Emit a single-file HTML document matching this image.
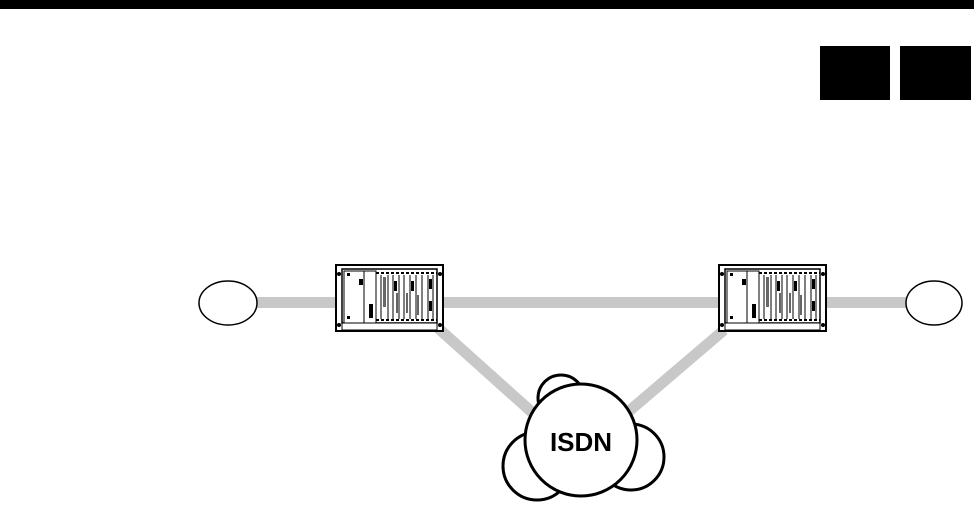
<!DOCTYPE html>
<html><head><style>html,body{margin:0;padding:0;background:#fff;width:974px;height:507px;overflow:hidden}</style></head>
<body>
<svg width="974" height="507" xmlns="http://www.w3.org/2000/svg">
<defs>
<g id="rack">
  <rect x="0" y="0" width="107" height="66" fill="#fff" stroke="#000" stroke-width="2"/>
  <rect x="6" y="4" width="95" height="54" fill="#fff" stroke="#000" stroke-width="1.5"/>
  <rect x="6" y="58" width="95" height="7" fill="#fff" stroke="#000" stroke-width="1"/>
  <rect x="8" y="6" width="20" height="52" fill="#fff" stroke="#000" stroke-width="1"/>
  <rect x="28" y="6" width="12" height="52" fill="#fff" stroke="#000" stroke-width="1"/>
  <rect x="11" y="8" width="3" height="3"/><rect x="11" y="51" width="3" height="3"/>
  <rect x="23" y="14" width="4" height="6"/><rect x="33" y="39" width="4" height="14"/>
  <g stroke="#000" stroke-width="1">
    <line x1="40" y1="8" x2="101" y2="8" stroke-dasharray="3,2" stroke-width="2"/>
    <line x1="40" y1="55" x2="101" y2="55" stroke-dasharray="3,2" stroke-width="2"/>
    <line x1="45" y1="10" x2="45" y2="54"/><line x1="52" y1="10" x2="52" y2="54"/>
    <line x1="57" y1="10" x2="57" y2="54"/><line x1="63" y1="10" x2="63" y2="54"/>
    <line x1="68" y1="10" x2="68" y2="54"/><line x1="74" y1="10" x2="74" y2="54"/>
    <line x1="80" y1="10" x2="80" y2="54"/><line x1="86" y1="10" x2="86" y2="54"/>
    <line x1="92" y1="10" x2="92" y2="54"/><line x1="97" y1="10" x2="97" y2="54"/>
  </g>
  <g fill="#000">
    <rect x="47" y="12" width="3" height="30" opacity=".6"/>
    <rect x="58" y="16" width="3" height="10"/><rect x="75" y="16" width="3" height="10"/>
    <rect x="60" y="28" width="2" height="20" opacity=".6"/><rect x="70" y="28" width="2" height="20" opacity=".6"/>
    <rect x="81" y="30" width="2" height="20" opacity=".6"/><rect x="93" y="14" width="3" height="10"/>
    <rect x="93" y="36" width="3" height="10"/>
  </g>
  <g fill="#000"><circle cx="3" cy="9" r="2"/><circle cx="104" cy="9" r="2"/><circle cx="3" cy="60" r="2"/><circle cx="104" cy="60" r="2"/></g>
</g>
</defs>
<rect x="0" y="0" width="974" height="9" fill="#000"/>
<rect x="820" y="46" width="70" height="54" fill="#000"/>
<rect x="900" y="46" width="71" height="54" fill="#000"/>
<g stroke="#c8c8c8" stroke-width="11" fill="none">
  <line x1="256" y1="302.5" x2="340" y2="302.5"/>
  <line x1="440" y1="302.5" x2="722" y2="302.5"/>
  <line x1="822" y1="302.5" x2="906" y2="302.5"/>
  <line x1="438" y1="328" x2="535" y2="415"/>
  <line x1="724" y1="330" x2="628" y2="412"/>
</g>
<ellipse cx="228" cy="303" rx="29" ry="22" fill="#fff" stroke="#000" stroke-width="1.5"/>
<ellipse cx="934" cy="303" rx="28" ry="22" fill="#fff" stroke="#000" stroke-width="1.5"/>
<use href="#rack" x="336" y="265"/>
<use href="#rack" x="719" y="265"/>
<g fill="#fff" stroke="#000" stroke-width="3">
  <circle cx="561" cy="398" r="23"/>
  <circle cx="537" cy="466" r="34"/>
  <circle cx="631" cy="457" r="33"/>
  <circle cx="581" cy="440" r="56"/>
</g>
<text x="581" y="451" font-family="Liberation Sans, sans-serif" font-weight="bold" font-size="26" text-anchor="middle">ISDN</text>
</svg>
</body></html>
